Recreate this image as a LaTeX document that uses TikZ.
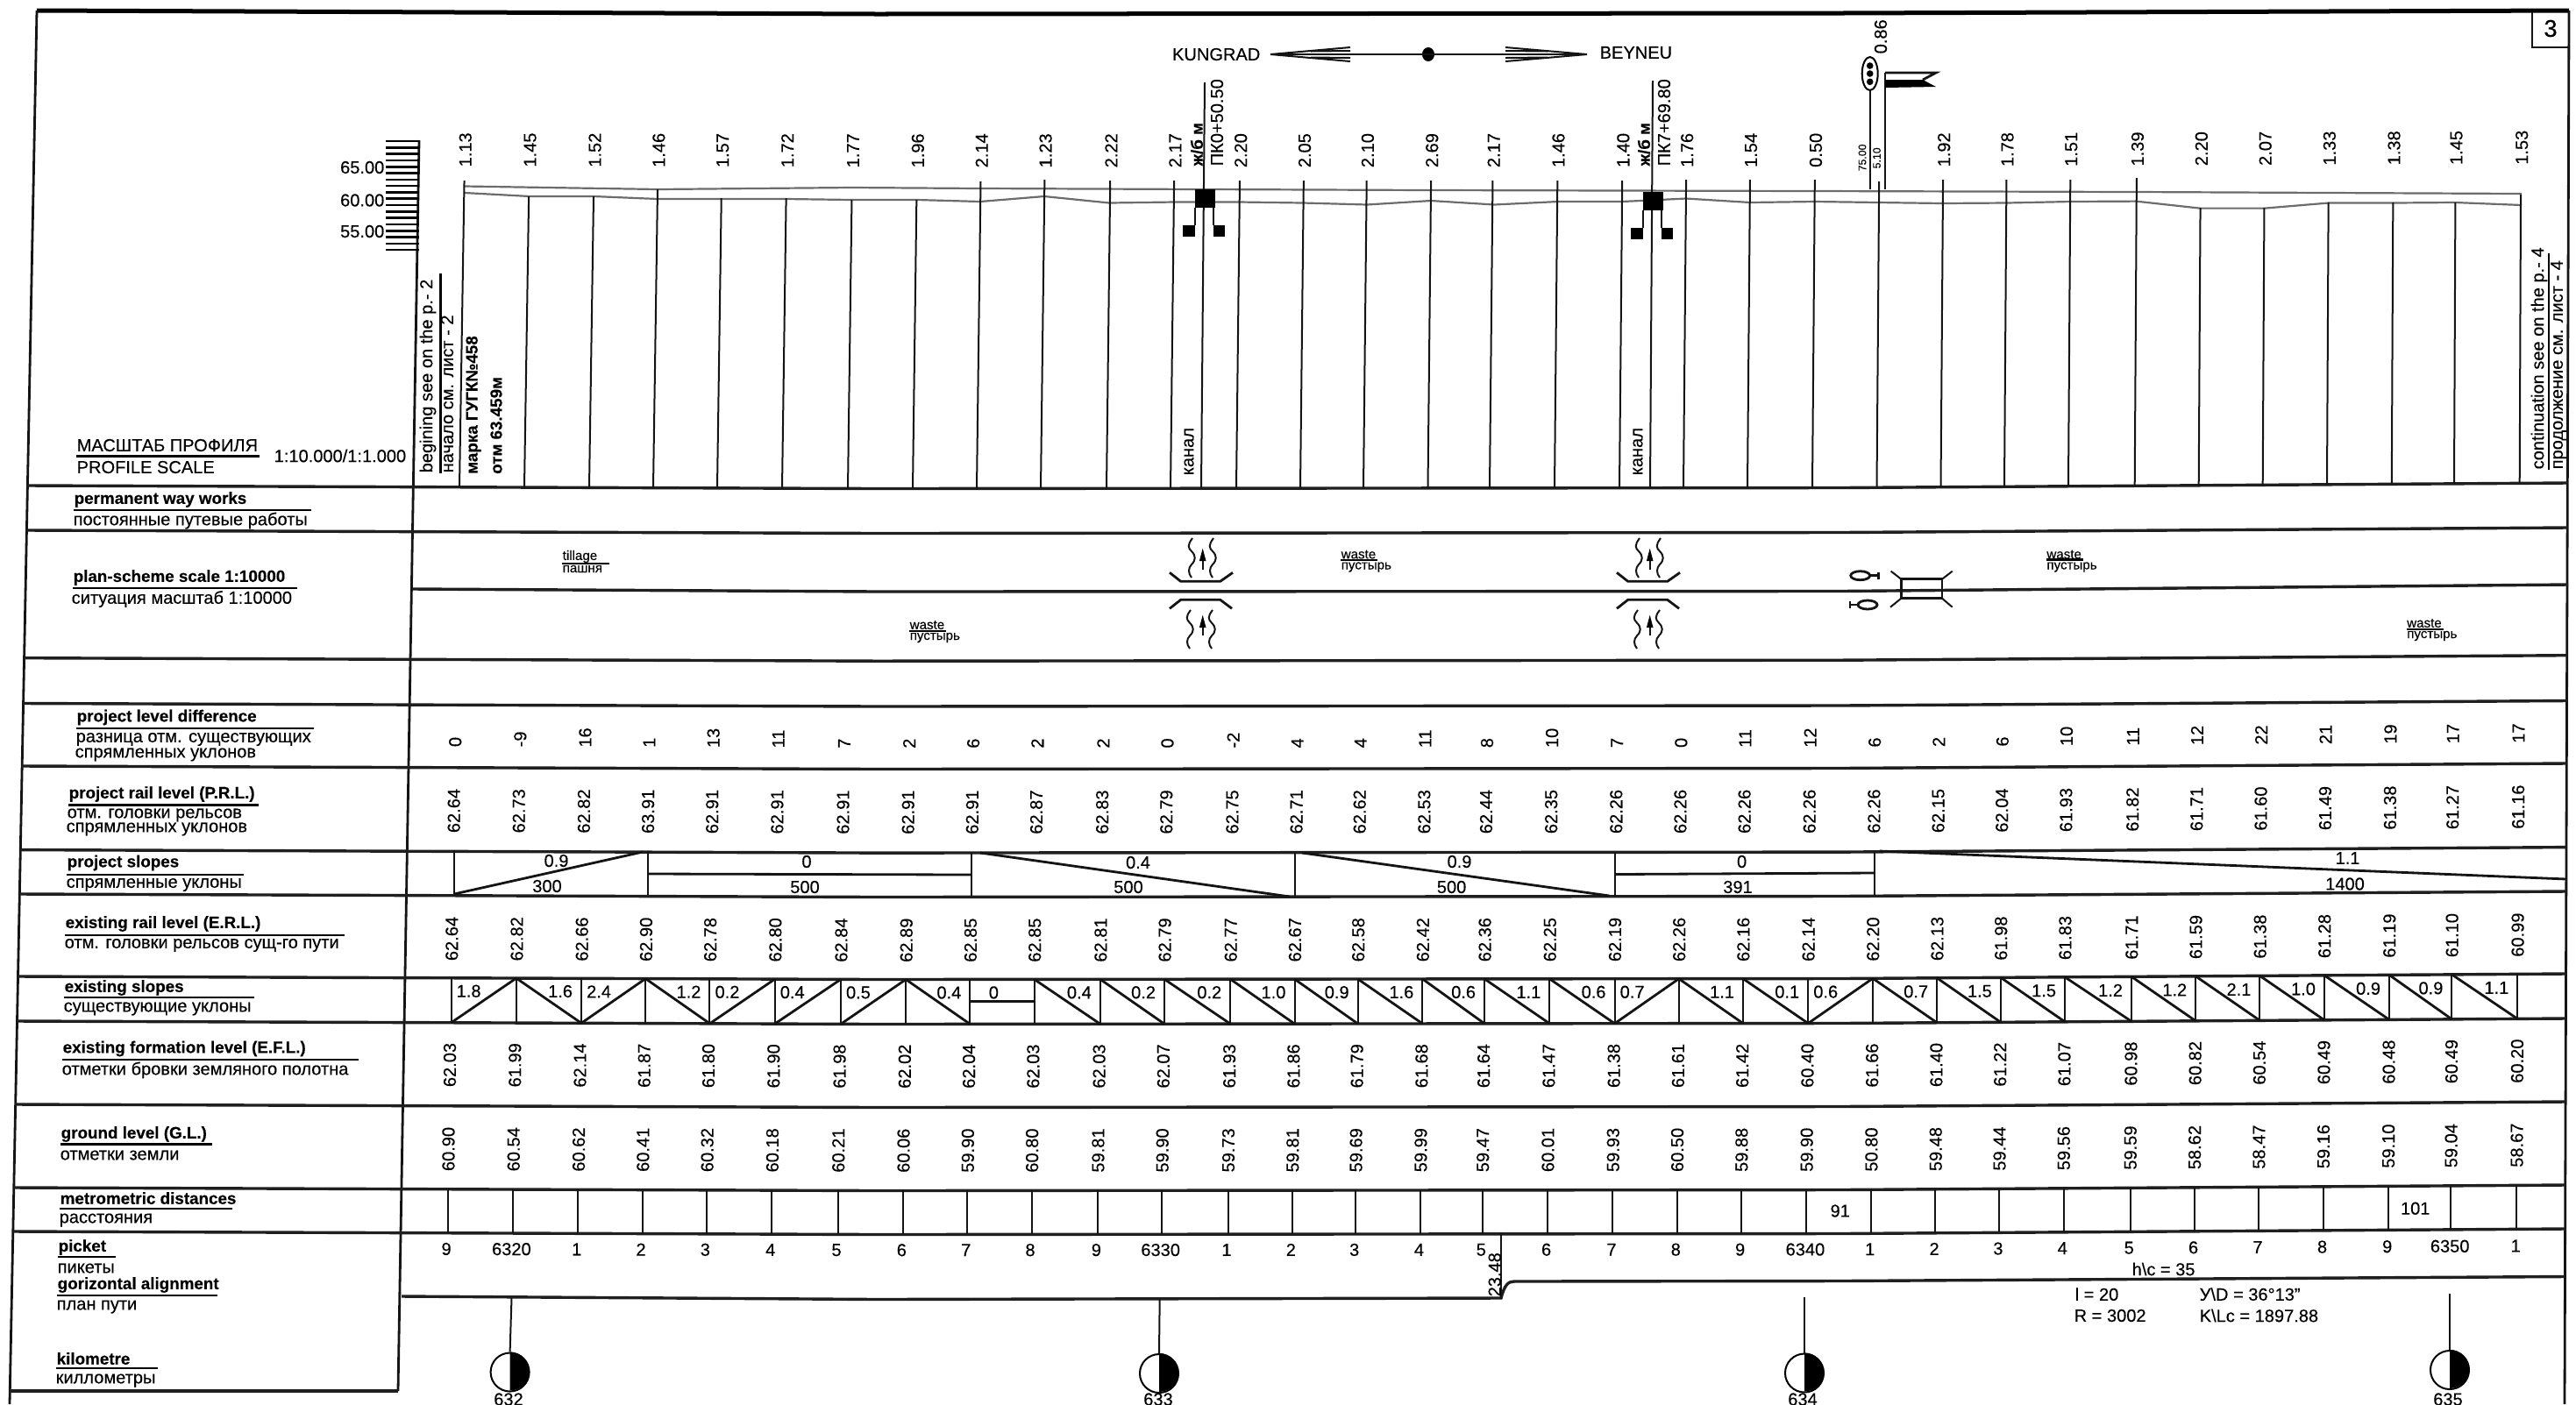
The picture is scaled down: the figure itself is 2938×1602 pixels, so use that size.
\documentclass[tikz,border=0pt]{standalone}
\usepackage{fontspec}
\usetikzlibrary{shapes.geometric}
\setmainfont[FakeBold=0.25]{Liberation Sans}
\newcommand\fn{\fontsize{5.7}{6.5}\selectfont}
\newcommand\fb{\fontsize{5.35}{6.5}\selectfont\bfseries}
\def\SA{{524,598,672,745,818,892,967,1041,1114,1187,1262,1335,1410,1483,1555,1628.5,1699,1773,1847,1920,1993,2067,2140.5,2213.5,2286,2359,2434.7,2507.7,2580.7,2654,2727.8,2799,2873.7}}
\def\TA{{206,224,224,216,226,226,228,228,207,205,206,206,206,206,206,206,206,206,206,205,205,205,207,205,205,205,203,237,237,231,231,231,222}}
\tikzset{
  rowline/.style={line width=3.4*0.2845pt,black!88},
  thinline/.style={line width=2*0.2845pt,black!92},
  medline/.style={line width=2.8*0.2845pt,black!92},
  gridline/.style={line width=2.2*0.2845pt,gray!85!black},
  uline/.style={line width=2.4*0.2845pt,black},
  vnum/.style={rotate=90,anchor=west,inner sep=0,font=\fn},
  vtext/.style={rotate=90,anchor=west,inner sep=0,font=\fn},
  ttext/.style={anchor=west,inner sep=0,font=\fn},
  ctext/.style={inner sep=0,font=\fn},
  smalltext/.style={anchor=west,inner sep=0,font=\fontsize{4.3}{5}\selectfont},
}
% row line, bent like the scanned sheet: left y
\newcommand\rowrule[1]{%
  \pgfmathsetmacro\xa{42-(#1-12)/1575*31}%
  \pgfmathsetmacro\xb{2930-(#1-12)/1590*5}%
  \pgfmathsetmacro\ya{#1+3.5}\pgfmathsetmacro\yb{#1+2.5}\pgfmathsetmacro\yc{#1-3}%
  \draw[rowline] (\xa,#1) -- (1000,\ya) -- (2100,\yb) -- (\xb,\yc);}
% row of rotated values: name, left-side base y, values
\newcommand\vrow[3]{%
  \foreach \v [count=\i from 0] in {#3}{%
    \pgfmathsetmacro\s{\SA[\i]}%
    \pgfmathsetmacro\xx{\s+(553-#2)*kk(\s)}%
    \pgfmathsetmacro\yy{#2+hy(\xx)}%
    \node[vnum] (#1\i) at (\xx,\yy) {\v};%
  }}
% row-title block: x, y, English, rule-right-x, rule-y
\newcommand\rtitle[6]{%
  \node[ttext,font=\fb] (#1) at (#2,#3) {#4};
  \draw[uline] (#2,#6) -- (#5,#6);}
\newcommand\plantext[7]{%
  \node[smalltext] (#1a) at (#2,#3) {#6};
  \pgfmathsetmacro\xe{#2+#7}
  \draw[line width=0.6pt] (#2,#4) -- (\xe,#4);
  \node[smalltext] (#1b) at (#2,#5) {пустырь};}
\newcommand\wav[3]{% x, y0, y1
  \pgfmathsetmacro\ya{#2+(#3-#2)/3}\pgfmathsetmacro\yb{#2+2*(#3-#2)/3}%
  \draw[thinline] (#1+1,#2) .. controls (#1-5,\ya-7) and (#1-4,\ya-4) .. (#1,\ya)
   .. controls (#1+5,\ya+5) and (#1+5,\yb-5) .. (#1,\yb)
   .. controls (#1-4,\yb+4) and (#1-4,#3-5) .. (#1,#3);}
\newcommand\canal[1]{%
 \begin{scope}[xshift=#1*0.01cm]
  \draw[medline] (1334,653.3) -- (1346.7,663.3) -- (1391.7,663.3) -- (1406,653.3);
  \draw[medline] (1334,694.3) -- (1346.7,684.3) -- (1391.7,684.3) -- (1405,694.3);
  \wav{1359}{614}{659}\wav{1383}{614}{659}
  \wav{1357}{696}{740}\wav{1382}{696}{740}
  \draw[thinline] (1371.7,650) -- (1371.7,636);
  \fill (1371.7,625.7) -- (1375.5,640) -- (1367.9,640) -- cycle;
  \draw[thinline] (1371.7,725) -- (1371.7,712);
  \fill (1371.7,701.7) -- (1375.5,716) -- (1367.9,716) -- cycle;
 \end{scope}}
\newcommand\crossing[1]{%
 \begin{scope}[xshift=#1*0.01cm,yshift=-#1*0.0062*0.01cm]
  \fill (1363,216) rectangle (1386,237);
  \fill (1349,257) rectangle (1363,270);
  \fill (1384,257) rectangle (1397,270);
  \draw[thinline] (1363,237) -- (1363,257);
  \draw[thinline] (1384,237) -- (1384,257);
 \end{scope}}
\newcommand\kmmark[7]{% name, line x, line y0, cx, cy, label x, label
  \coordinate (#1t) at (#2,#3);
  \node[circle,draw,line width=2*0.2845pt,minimum size=44*0.2845pt,inner sep=0] (#1) at (#4,#5) {};
  \fill (#1.north) arc (-90:90:22) -- cycle;
  \draw[thinline] (#1t) -- (#1.north);
  \node[ctext] (#1l) at (#6,1596.5) {#7};}
\begin{document}
\begin{tikzpicture}[x=0.01cm,y=-0.01cm,
  declare function={kk(\s)=0.016-(\s-520)/2350*0.012;
    hy(\x)=ifthenelse(\x<1000,(\x-30)/970*3.5,ifthenelse(\x<2100,3.5-(\x-1000)/1100,2.5-(\x-2100)/830*5.5));}]
\useasboundingbox (0,0) rectangle (2938,1602);
% frame
\draw[line width=5*0.2845pt] (42,12) -- (1000,16) -- (2100,15) -- (2930,12);
\draw[medline] (42,12) -- (11,1602);
\draw[medline] (2930,12) -- (2925,1602);
\draw[medline] (478,160) -- (454,1587);
\draw[rowline] (11,1587) -- (454,1587);
\draw[medline] (2888,14) -- (2888,54) -- (2930,54);
\node[ctext,font=\fontsize{7.8}{9}\selectfont] (sheet) at (2909,32.5) {3};
% row rules
\foreach \y in {554,605,750.7,802.5,874,969.6,1020,1114,1165,1260,1355,1405}{\rowrule{\y}}
\draw[rowline] (471,672) -- (1000,675) -- (2100,674.5) -- (2929,667);
% direction
\node[ctext,anchor=east] (kung) at (1438,62) {KUNGRAD};
\node[ctext,anchor=west] (bey) at (1824,60) {BEYNEU};
\node[ellipse,fill,inner sep=0,minimum width=14*0.2845pt,minimum height=16*0.2845pt] (dirdot) at (1629,62) {};
\draw[medline] (1449,62) -- (1810,62);
\draw[thinline] (1449,62) -- (1540,54) (1449,62) -- (1540,70) (1495,58.5) -- (1540,58) (1495,65.5) -- (1540,66);
\draw[thinline] (1810,62) -- (1717,54) (1810,62) -- (1717,70) (1765,58.5) -- (1717,58) (1765,65.5) -- (1717,66);
% scale
\foreach \y in {161,168.3,...,290}{\draw[line width=2.6*0.2845pt] (440,\y) -- (478,\y);}
\node[ctext,anchor=east] (s65) at (439,191) {65.00};
\node[ctext,anchor=east] (s60) at (439,228.5) {60.00};
\node[ctext,anchor=east] (s55) at (439,264) {55.00};
% profile curves
\draw[gridline] (530,212.5) -- (750,216) -- (971,214) -- (1118,215) -- (1630,217) -- (2070,218) -- (2436,219) -- (2876,221);
\draw[gridline] (530,220) -- (604,224) -- (677,224) -- (750,227) -- (896,227) -- (971,228) -- (1046,228) -- (1118,230) -- (1191,224) -- (1265,231.5) -- (1340,230.5) -- (1413,230.5) -- (1486,231.5) -- (1559,233.5) -- (1632,229) -- (1704,233.5) -- (1777,230) -- (1850,230) -- (1923,226.5) -- (1996,231) -- (2070,230) -- (2142,231) -- (2215,232) -- (2289,231.5) -- (2362,230) -- (2436,229.6) -- (2509,237.6) -- (2583,237.6) -- (2656,231.5) -- (2729,231.5) -- (2800,231) -- (2876,234);
% station lines
\foreach \i in {0,...,32}{%
  \pgfmathsetmacro\s{\SA[\i]}\pgfmathsetmacro\t{\TA[\i]}%
  \pgfmathsetmacro\xt{\s+(553-\t)*kk(\s)}\pgfmathsetmacro\yb{554+hy(\s)}%
  \draw[thinline] (\xt,\t) -- (\s,\yb);
  % metric row
  \pgfmathsetmacro\xm{\s+(553-1380)*kk(\s)}%
  \pgfmathsetmacro\ya{1355+hy(\s)}\pgfmathsetmacro\yc{1405+hy(\s)}%
  \draw[thinline] (\xm,\ya) -- (\xm,\yc);
}
\draw[thinline] (1374,94) -- (1370,557);
\draw[thinline] (1885,92) -- (1882,557);
\crossing{0}\crossing{511}
% top values
\foreach \v [count=\i from 0] in {1.13,1.45,1.52,1.46,1.57,1.72,1.77,1.96,2.14,1.23,2.22,2.17,2.20,2.05,2.10,2.69,2.17,1.46,1.40,1.76,1.54,0.50,0.86,1.92,1.78,1.51,1.39,2.20,2.07,1.33,1.38,1.45,1.53}{%
  \ifnum\i=22\else
  \pgfmathsetmacro\s{\SA[\i]}\pgfmathsetmacro\xx{\s+(553-190)*kk(\s)+1}\pgfmathsetmacro\yy{190+0.6*hy(\s)}%
  \node[vnum] (h\i) at (\xx,\yy) {\v};\fi}
\node[vnum] (h22) at (2145,62) {0.86};
\node[vnum,font=\fontsize{3.5}{4}\selectfont] (sig75) at (2124,196) {75.00};
\node[vnum,font=\fontsize{3.5}{4}\selectfont] (sig51) at (2140.5,193) {5.10};
\node[vnum,font=\fb] (jb0) at (1365,190) {ж/б м};
\node[vnum] (pk0) at (1388,190) {ПК0+50.50};
\node[vnum,font=\fb] (jb7) at (1875,190) {ж/б м};
\node[vnum] (pk7) at (1898,190) {ПК7+69.80};
% signal and flag
\draw[thinline] (2133,103) -- (2133,216);
\draw[thinline] (2150,83) -- (2150,216);
\node[ellipse,draw,line width=2*0.2845pt,inner sep=0,minimum width=18*0.2845pt,minimum height=38*0.2845pt] (sig) at (2132.7,84) {};
\foreach \y in {75,84,93.3}{\fill (2132.7,\y) circle [radius=3.8];}
\draw[medline] (2150,83) -- (2208,83) -- (2193,91);
\fill (2150,91) -- (2193,91) -- (2208,99) -- (2150,100) -- cycle;
% side texts
\node[vtext] (beg) at (488,540) {begining see on the p.- 2};
\draw[uline] (502.5,312) -- (502.5,540);
\node[vtext] (start) at (510,540) {начало см. лист - 2};
\node[vtext,font=\fb] (mark) at (540,541.5) {марка ГУГК№458};
\node[vtext,font=\fb] (otm) at (566,541.5) {отм 63.459м};
\node[vtext] (kan0) at (1356,543) {канал};
\node[vtext] (kan7) at (1868,543) {канал};
\node[vtext] (cont) at (2896,536) {continuation see on the p.- 4};
\draw[uline] (2907,289) -- (2907,536);
\node[vtext] (contr) at (2918,536) {продолжение см. лист - 4};
% profile scale
\node[ttext] (msc) at (87,508) {МАСШТАБ ПРОФИЛЯ};
\draw[uline] (87,520.5) -- (296,520.5);
\node[ttext] (psc) at (87,533) {PROFILE SCALE};
\node[ttext] (ratio) at (312,520) {1:10.000/1:1.000};
% titles
\rtitle{t1}{84}{570}{permanent way works}{355}{582}
\node[ttext] (r1) at (83,594) {постоянные путевые работы};
\rtitle{t2}{83}{659}{plan-scheme scale 1:10000}{339}{671}
\node[ttext] (r2) at (81,683.5) {ситуация масштаб 1:10000};
\rtitle{t3}{87}{818.5}{project level difference}{358}{831}
\node[ttext] (r3) at (86,843.5) {разница отм. существующих};
\node[ttext] (r3b) at (85,861) {спрямленных уклонов};
\rtitle{t4}{78}{906}{project rail level (P.R.L.)}{295}{918.5}
\node[ttext] (r4) at (76,930) {отм. головки рельсов};
\node[ttext] (r4b) at (75,946) {спрямленных уклонов};
\rtitle{t5}{76}{984.5}{project slopes}{278}{998}
\node[ttext] (r5) at (75,1009.5) {спрямленные уклоны};
\rtitle{t6}{74}{1054}{existing rail level (E.R.L.)}{393}{1067}
\node[ttext] (r6) at (73,1078.5) {отм. головки рельсов сущ-го пути};
\rtitle{t7}{73}{1127}{existing slopes}{290}{1138}
\node[ttext] (r7) at (72,1151) {существующие уклоны};
\rtitle{t8}{71}{1196.5}{existing formation level (E.F.L.)}{409}{1209}
\node[ttext] (r8) at (70,1221) {отметки бровки земляного полотна};
\rtitle{t9}{69}{1294}{ground level (G.L.)}{242}{1305.5}
\node[ttext] (r9) at (68,1318) {отметки земли};
\rtitle{t10}{68}{1367}{metrometric distances}{265}{1379}
\node[ttext] (r10) at (67,1392) {расстояния};
\rtitle{t11}{66}{1423}{picket}{132}{1434}
\node[ttext] (r11) at (65,1447) {пикеты};
\rtitle{t12}{65}{1466}{gorizontal alignment}{248}{1478}
\node[ttext] (r12) at (64,1491) {план пути};
\rtitle{t13}{64}{1550}{kilometre}{180}{1561}
\node[ttext] (r13) at (63,1575) {киллометры};
% plan strip
\node[smalltext] (tila) at (641,635) {tillage};
\draw[line width=0.6pt] (641,643) -- (695,643);
\node[smalltext] (tilb) at (641,649) {пашня};
\plantext{w1}{1529}{632.5}{639}{647}{waste}{42}
\plantext{w2}{1037}{713}{719.6}{727.5}{waste}{42}
\plantext{w3}{2333.7}{632.5}{638.5}{647}{waste}{42}
\plantext{w4}{2744.5}{711}{718}{725.5}{waste}{42}
\canal{0}\canal{510}
% culvert
\draw[medline] (2168.3,682.7) -- (2168.3,660.7) -- (2215,660.7) -- (2215,682.7) -- cycle;
\draw[thinline] (2156.7,651.7) -- (2168.3,660.7) (2226.7,651.7) -- (2215,660.7) (2156,692.7) -- (2168.3,682.7) (2226.7,692.7) -- (2215,682.7);
\draw[medline] (2121.7,656.7) ellipse [x radius=11,y radius=5];
\draw[medline] (2132.7,656.7) -- (2142.7,656.7) (2142.7,653) -- (2142.7,660.7);
\draw[medline] (2130,690) ellipse [x radius=11,y radius=5];
\draw[medline] (2119,690) -- (2110,690) (2110,686) -- (2110,694);
% value rows
\vrow{d}{851}{0,-9,16,1,13,11,7,2,6,2,2,0,-2,4,4,11,8,10,7,0,11,12,6,2,6,10,11,12,22,21,19,17,17}
\vrow{p}{949}{62.64,62.73,62.82,63.91,62.91,62.91,62.91,62.91,62.91,62.87,62.83,62.79,62.75,62.71,62.62,62.53,62.44,62.35,62.26,62.26,62.26,62.26,62.26,62.15,62.04,61.93,61.82,61.71,61.60,61.49,61.38,61.27,61.16}
\vrow{e}{1095}{62.64,62.82,62.66,62.90,62.78,62.80,62.84,62.89,62.85,62.85,62.81,62.79,62.77,62.67,62.58,62.42,62.36,62.25,62.19,62.26,62.16,62.14,62.20,62.13,61.98,61.83,61.71,61.59,61.38,61.28,61.19,61.10,60.99}
\vrow{f}{1239}{62.03,61.99,62.14,61.87,61.80,61.90,61.98,62.02,62.04,62.03,62.03,62.07,61.93,61.86,61.79,61.68,61.64,61.47,61.38,61.61,61.42,60.40,61.66,61.40,61.22,61.07,60.98,60.82,60.54,60.49,60.48,60.49,60.20}
\vrow{g}{1335}{60.90,60.54,60.62,60.41,60.32,60.18,60.21,60.06,59.90,60.80,59.81,59.90,59.73,59.81,59.69,59.99,59.47,60.01,59.93,60.50,59.88,59.90,50.80,59.48,59.44,59.56,59.59,58.62,58.47,59.16,59.10,59.04,58.67}
% project slopes
\draw[thinline] (518,970) -- (518,1020) (738.5,971) -- (738.5,1021) (1108,973) -- (1108,1023) (1477,973) -- (1477,1023) (1842,973) -- (1842,1023) (2137.5,972) -- (2137.5,1022);
\draw[medline] (518,1020) -- (733,972);
\draw[medline] (738.5,997) -- (1108,998) (1842,997.5) -- (2137.5,996);
\draw[medline] (1118,973) -- (1471,1023) (1485,973) -- (1835.5,1022) (2143.5,971) -- (2927,1003);
\node[ctext] (ps1) at (634.5,982) {0.9};
\node[ctext] (ps2) at (624,1011) {300};
\node[ctext] (ps3) at (920,983) {0};
\node[ctext] (ps4) at (918,1012) {500};
\node[ctext] (ps5) at (1298,984) {0.4};
\node[ctext] (ps6) at (1287,1012) {500};
\node[ctext] (ps7) at (1664.5,983) {0.9};
\node[ctext] (ps8) at (1655.6,1012) {500};
\node[ctext] (ps9) at (1986.6,983) {0};
\node[ctext] (ps10) at (1982,1012) {391};
\node[ctext] (ps11) at (2677.5,979) {1.1};
\node[ctext] (ps12) at (2674.5,1008.5) {1400};
% existing slopes
\foreach \v/\d [count=\i from 0] in {1.8/1,1.6/2,2.4/1,1.2/2,0.2/1,0.4/1,0.5/1,0.4/2,0/0,0.4/2,0.2/2,0.2/2,1.0/2,0.9/2,1.6/2,0.6/2,1.1/2,0.6/2,0.7/1,1.1/2,0.1/2,0.6/1,0.7/2,1.5/2,1.5/2,1.2/2,1.2/2,2.1/2,1.0/2,0.9/2,0.9/2,1.1/2}{%
  \pgfmathsetmacro\s{\SA[\i]}\pgfmathtruncatemacro\j{\i+1}\pgfmathsetmacro\n{\SA[\j]}%
  \pgfmathsetmacro\xa{\s+(553-1140)*kk(\s)}\pgfmathsetmacro\xb{\n+(553-1140)*kk(\n)}%
  \pgfmathsetmacro\ya{1114+hy(\xa)}\pgfmathsetmacro\yb{1165+hy(\xa)}%
  \pgfmathsetmacro\yA{1114+hy(\xb)}\pgfmathsetmacro\yB{1165+hy(\xb)}%
  \draw[thinline] (\xa,\ya) -- (\xa,\yb);
  \pgfmathsetmacro\yl{1129+hy(\xa)}%
  \ifnum\d=1
    \draw[medline] (\xa,\yb) -- (\xb,\yA);
    \pgfmathsetmacro\xl{\xa+20}%
  \else\ifnum\d=2
    \draw[medline] (\xa,\ya) -- (\xb,\yB);
    \pgfmathsetmacro\xl{\xb-24}%
  \else
    \pgfmathsetmacro\ym{1139+hy(\xa)}%
    \draw[medline] (\xa,\ym) -- (\xb,\ym);
    \pgfmathsetmacro\xl{\xa+27}%
  \fi\fi
  \node[ctext] (x\i) at (\xl,\yl) {\v};
  \ifnum\i=31 \draw[thinline] (\xb,\yA) -- (\xb,\yB); \fi
}
% metric values
\node[ctext] (m91) at (2098.7,1381.5) {91};
\node[ctext] (m101) at (2754.7,1378.7) {101};
% pickets
\foreach \v [count=\i from 0] in {9,6320,1,2,3,4,5,6,7,8,9,6330,1,2,3,4,5,6,7,8,9,6340,1,2,3,4,5,6,7,8,9,6350,1}{%
  \pgfmathsetmacro\s{\SA[\i]}\pgfmathsetmacro\xx{\s+(553-1424)*kk(\s)-1}\pgfmathsetmacro\yy{1423.5+0.8*hy(\s)}%
  \node[ctext] (pk\i) at (\xx,\yy) {\v};}
% alignment
\draw[rowline] (458,1479) -- (1000,1482.5) -- (1712,1481) .. controls (1716,1466) and (1720,1462) .. (1727,1462) -- (2100,1461.5) -- (2925,1456.5);
\draw[thinline] (1712,1407) -- (1712,1482);
\node[vtext] (c2348) at (1704.7,1480) {23.48};
\node[ctext] (hc) at (2467.6,1448) {h\textbackslash c = 35};
\node[ttext] (l20) at (2366,1476.6) {l = 20};
\node[ttext] (yd) at (2508,1476.6) {У\textbackslash D = 36°13"};
\node[ttext] (r30) at (2365,1501) {R = 3002};
\node[ttext] (klc) at (2508,1501) {K\textbackslash Lc = 1897.88};
% kilometre marks
\kmmark{k632}{583.5}{1481}{581.6}{1565.5}{580}{632}
\kmmark{k633}{1322.7}{1482}{1322}{1567}{1321}{633}
\kmmark{k634}{2058}{1480}{2058}{1566.5}{2056}{634}
\kmmark{k635}{2794}{1476}{2794}{1563}{2792}{635}
\end{tikzpicture}
\end{document}
